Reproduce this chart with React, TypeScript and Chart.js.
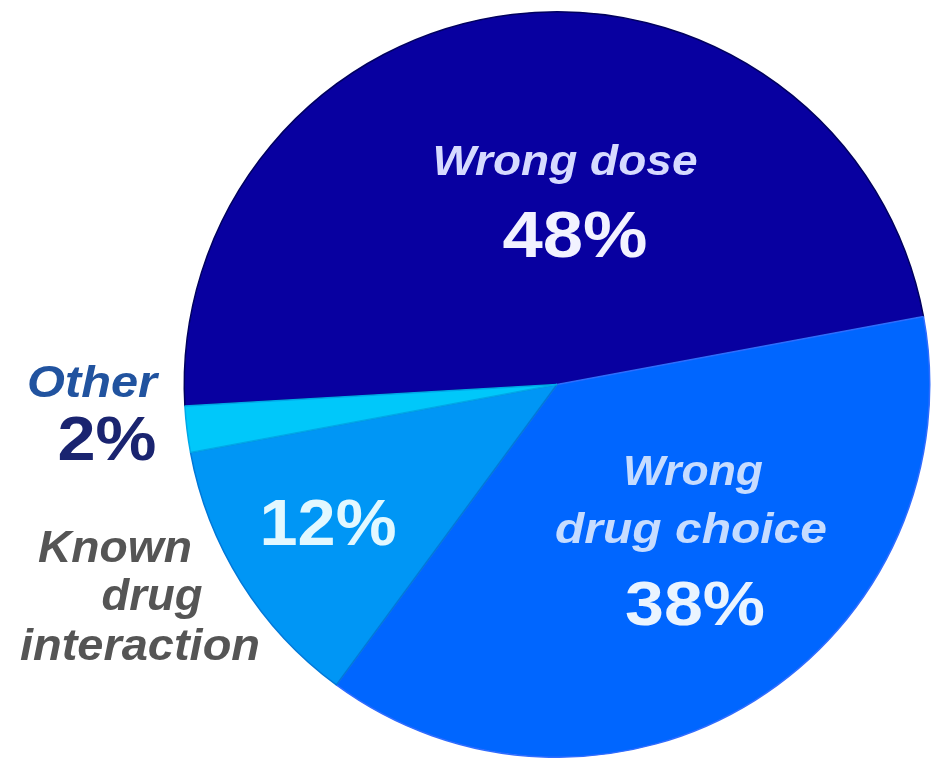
import React, { useEffect, useRef } from "react";
import { Chart, registerables } from "chart.js";

Chart.register(...registerables);

const categories = ["Wrong dose", "Wrong drug choice", "Known drug interaction", "Other"];
const percentages = [48, 38, 12, 2];
const sliceColors = ["#0800a0", "#0066ff", "#0096f5", "#00c8fa"];
const sliceBorders = ["#00005e", "#2f6cff", "#0078d8", "#00a8e8"];

type TextItem = {
  text: string;
  cx: number;
  base: number;
  width: number;
  size: number;
  italic: boolean;
  color: string;
};

const textItems: TextItem[] = [
  { text: "Wrong dose", cx: 565, base: 175, width: 265, size: 42, italic: true, color: "#d6daff" },
  { text: `${percentages[0]}%`, cx: 575, base: 257, width: 145, size: 64, italic: false, color: "#f2f2ff" },
  { text: "Wrong", cx: 693, base: 485, width: 140, size: 42, italic: true, color: "#c6dcff" },
  { text: "drug choice", cx: 691, base: 543, width: 272, size: 42, italic: true, color: "#c6dcff" },
  { text: `${percentages[1]}%`, cx: 695, base: 625, width: 140, size: 63, italic: false, color: "#eaf4ff" },
  { text: `${percentages[2]}%`, cx: 328, base: 545, width: 137, size: 64, italic: false, color: "#e2f8ff" },
  { text: "Other", cx: 92, base: 397, width: 130, size: 44, italic: true, color: "#21539f" },
  { text: `${percentages[3]}%`, cx: 107, base: 460, width: 99, size: 63, italic: false, color: "#1a2470" },
  { text: "Known", cx: 115, base: 562, width: 154, size: 44, italic: true, color: "#555555" },
  { text: "drug", cx: 152, base: 610, width: 101, size: 44, italic: true, color: "#555555" },
  { text: "interaction", cx: 140, base: 660, width: 240, size: 44, italic: true, color: "#555555" },
];

const labelPlugin = {
  id: "pieLabels",
  afterDraw(chart: any) {
    const ctx = chart.ctx as CanvasRenderingContext2D;
    for (const t of textItems) {
      ctx.save();
      ctx.font = `${t.italic ? "italic " : ""}bold ${t.size}px "Liberation Sans", Arial, sans-serif`;
      const w = ctx.measureText(t.text).width;
      const sx = t.width / w;
      ctx.translate(t.cx, t.base);
      ctx.scale(sx, 1);
      ctx.textAlign = "center";
      ctx.textBaseline = "alphabetic";
      ctx.fillStyle = t.color;
      ctx.fillText(t.text, 0, 0);
      ctx.restore();
    }
  },
};

export default function App() {
  const ref = useRef<HTMLCanvasElement | null>(null);
  useEffect(() => {
    if (!ref.current) return;
    const chart = new Chart(ref.current, {
      type: "pie",
      data: {
        labels: categories,
        datasets: [
          {
            data: percentages,
            backgroundColor: sliceColors,
            borderColor: sliceBorders,
            borderWidth: 1.5,
          },
        ],
      },
      options: {
        responsive: false,
        animation: false,
        rotation: 266.7,
        layout: { padding: { left: 183, right: 8, top: 11, bottom: 0 } },
        plugins: {
          legend: { display: false },
          tooltip: { enabled: false },
          title: { display: false },
        },
      },
      plugins: [labelPlugin],
    });
    return () => chart.destroy();
  }, []);
  return (
    <div style={{ position: "absolute", left: 0, top: 0, width: 939, height: 758, background: "#ffffff" }}>
      <canvas ref={ref} width={939} height={758} style={{ display: "block" }} />
    </div>
  );
}
